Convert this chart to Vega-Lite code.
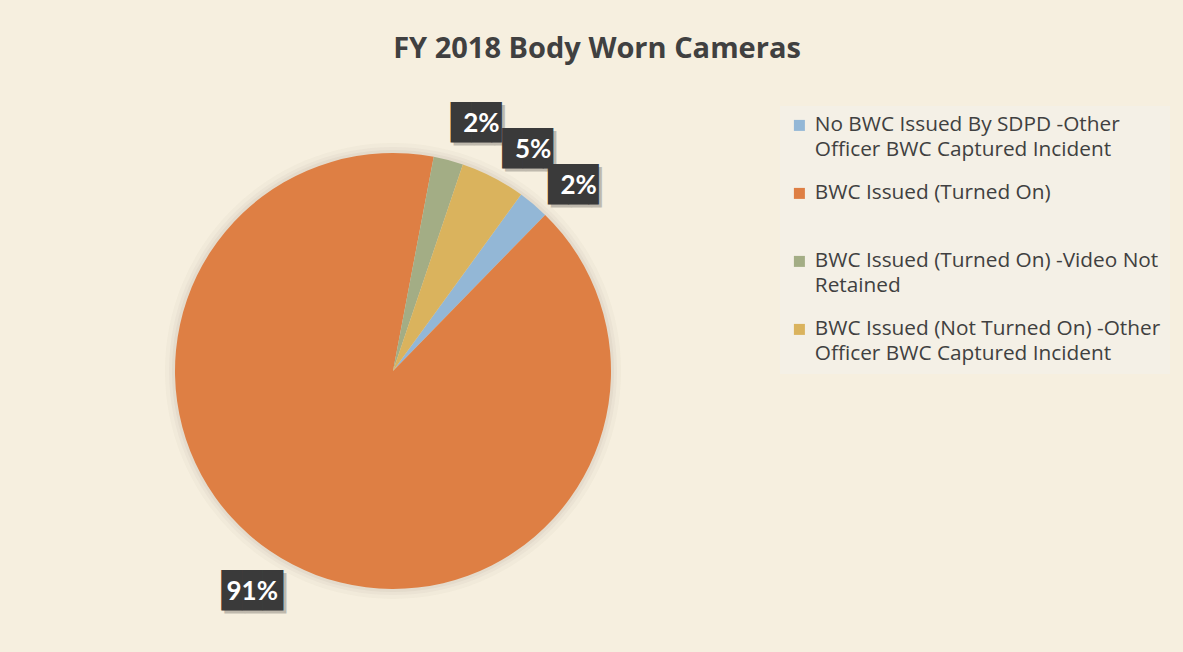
{
  "$schema": "https://vega.github.io/schema/vega-lite/v6.json",
  "width": 770,
  "height": 540,
  "padding": {"left": 8, "top": 35, "right": 80, "bottom": 30},
  "background": "#F6EFDF",
  "title": {"text": "FY 2018 Body Worn Cameras", "font": "Open Sans", "fontSize": 29, "fontWeight": "bold", "color": "#404040", "anchor": "middle", "frame": "bounds", "baseline": "alphabetic", "offset": 14, "dx": 8},
  "config": {"view": {"stroke": null}, "style": {"guide-label": {"lineHeight": 25}}},
  "resolve": {"scale": {"theta": "independent"}},
  "data": {"values": [
    {"idx": 1, "category": "No BWC Issued By SDPD -Other Officer BWC Captured Incident", "share": 0.023},
    {"idx": 2, "category": "BWC Issued  (Turned On)", "share": 0.907},
    {"idx": 3, "category": "BWC Issued (Turned On) -Video Not Retained", "share": 0.022},
    {"idx": 4, "category": "BWC Issued (Not Turned On) -Other Officer BWC Captured Incident", "share": 0.048}
  ]},
  "layer": [
    {"data": {"values": [{"k": 1}]}, "mark": {"type": "arc", "radius": 228, "fill": "#5a5040", "opacity": 0.03}, "encoding": {}},
    {"data": {"values": [{"k": 1}]}, "mark": {"type": "arc", "radius": 224, "fill": "#5a5040", "opacity": 0.04}, "encoding": {}},
    {"data": {"values": [{"k": 1}]}, "mark": {"type": "arc", "radius": 221, "fill": "#5a5040", "opacity": 0.05}, "encoding": {}},
    {
      "mark": {"type": "arc", "radius": 218},
      "encoding": {
        "theta": {"field": "share", "type": "quantitative", "stack": true, "scale": {"range": [0.628, 6.911]}},
        "order": {"field": "idx", "type": "quantitative"},
        "color": {
          "field": "category", "type": "nominal",
          "sort": ["No BWC Issued By SDPD -Other Officer BWC Captured Incident", "BWC Issued  (Turned On)", "BWC Issued (Turned On) -Video Not Retained", "BWC Issued (Not Turned On) -Other Officer BWC Captured Incident"],
          "scale": {
            "domain": ["No BWC Issued By SDPD -Other Officer BWC Captured Incident", "BWC Issued  (Turned On)", "BWC Issued (Turned On) -Video Not Retained", "BWC Issued (Not Turned On) -Other Officer BWC Captured Incident"],
            "range": ["#93B7D6", "#DE7F44", "#A3AD85", "#DAB35D"]
          },
          "legend": {
            "orient": "none", "legendX": 772, "legendY": 5,
            "fillColor": "#F4F0E6", "padding": 9, "title": null,
            "symbolType": "square", "symbolSize": 121, "symbolStrokeWidth": 0,
            "labelFont": "Open Sans", "labelFontSize": 20.8, "labelColor": "#404040", "labelLimit": 420, "labelOffset": 5,
            "rowPadding": 21,
            "labelExpr": "indexof(datum.label, ' Officer') > 0 ? [substring(datum.label, 0, indexof(datum.label, ' Officer')), substring(datum.label, indexof(datum.label, ' Officer') + 1)] : indexof(datum.label, ' Retained') > 0 ? [substring(datum.label, 0, indexof(datum.label, ' Retained')), substring(datum.label, indexof(datum.label, ' Retained') + 1)] : [datum.label, ' ']"
          }
        }
      }
    },
    {
      "mark": {"type": "text", "radius": 262, "font": "DejaVu Sans Mono", "fontSize": 34, "color": "#000000", "opacity": 0.22, "dx": 3, "dy": 3, "baseline": "middle"},
      "encoding": {
        "theta": {"field": "share", "type": "quantitative", "stack": true, "scale": {"range": [0.715, 6.998]}},
        "order": {"field": "idx", "type": "quantitative"},
        "text": {"condition": {"test": "datum.share >= 0.1", "value": "███"}, "value": "██▌"}
      }
    },
    {
      "mark": {"type": "text", "radius": 262, "font": "DejaVu Sans Mono", "fontSize": 34, "color": "#3A3A3A", "baseline": "middle"},
      "encoding": {
        "theta": {"field": "share", "type": "quantitative", "stack": true, "scale": {"range": [0.715, 6.998]}},
        "order": {"field": "idx", "type": "quantitative"},
        "text": {"condition": {"test": "datum.share >= 0.1", "value": "███"}, "value": "██▌"}
      }
    },
    {
      "mark": {"type": "text", "radius": 262, "font": "Lato", "fontSize": 26, "fontWeight": "bold", "color": "#FFFFFF", "baseline": "middle"},
      "encoding": {
        "theta": {"field": "share", "type": "quantitative", "stack": true, "scale": {"range": [0.715, 6.998]}},
        "order": {"field": "idx", "type": "quantitative"},
        "text": {"field": "share", "type": "quantitative", "format": ".0%"}
      }
    }
  ]
}
